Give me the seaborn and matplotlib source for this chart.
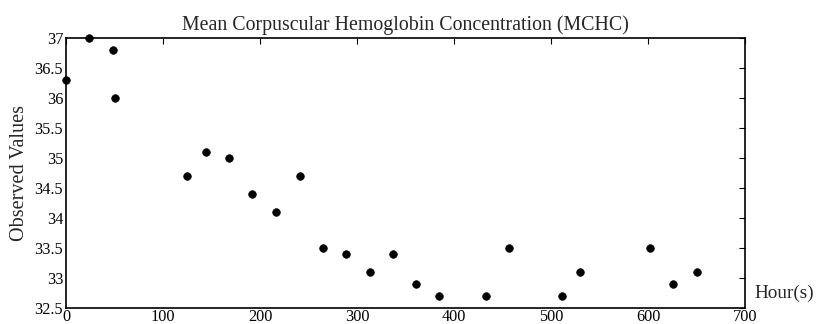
import matplotlib
matplotlib.use("Agg")
import matplotlib.pyplot as plt
import seaborn as sns
import pandas as pd

hours = [0, 24, 48, 51, 125, 144, 168, 192, 217, 241, 265, 289, 313, 337,
         361, 385, 433, 457, 511, 530, 602, 626, 650]
values = [36.3, 37.0, 36.8, 36.0, 34.7, 35.1, 35.0, 34.4, 34.1, 34.7, 33.5, 33.4,
          33.1, 33.4, 32.9, 32.7, 32.7, 33.5, 32.7, 33.1, 33.5, 32.9, 33.1]
xticks = [0, 100, 200, 300, 400, 500, 600, 700]
yticks = [32.5, 33, 33.5, 34, 34.5, 35, 35.5, 36, 36.5, 37]
ytick_labels = ["32.5", "33", "33.5", "34", "34.5", "35", "35.5", "36", "36.5", "37"]

sns.set_style("white")
plt.rcParams['font.family'] = ['Liberation Serif', 'DejaVu Serif']

df = pd.DataFrame({"Hours": hours, "Value": values})
fig = plt.figure(figsize=(8.16, 3.24), dpi=100)
ax = fig.add_axes([66/816, 16/324, (745-66)/816, (308-38)/324])
sns.scatterplot(data=df, x="Hours", y="Value", ax=ax, color="black", s=30,
                edgecolor="black", linewidth=0.5, clip_on=False, zorder=3)
ax.set_xlim(0, 700)
ax.set_ylim(32.5, 37)
ax.set_xticks(xticks)
ax.set_xticklabels([str(t) for t in xticks])
ax.set_yticks(yticks)
ax.set_yticklabels(ytick_labels)
ax.tick_params(direction="in", length=4, width=0.8, top=True, right=True,
               labelsize=11.7, pad=2, colors="black")
ax.tick_params(axis="x", pad=1)
for sp in ax.spines.values():
    sp.set_visible(True)
    sp.set_color("black")
    sp.set_linewidth(1.2)
ax.set_xlabel("")
ax.set_ylabel("Observed Values", fontsize=14.5, labelpad=4)
ax.set_title("Mean Corpuscular Hemoglobin Concentration (MCHC)", fontsize=14.3, pad=6)
ax.text(1.014, 0.055, "Hour(s)", transform=ax.transAxes, fontsize=13.8,
        ha="left", va="center")
fig.savefig("out.png", dpi=100)
